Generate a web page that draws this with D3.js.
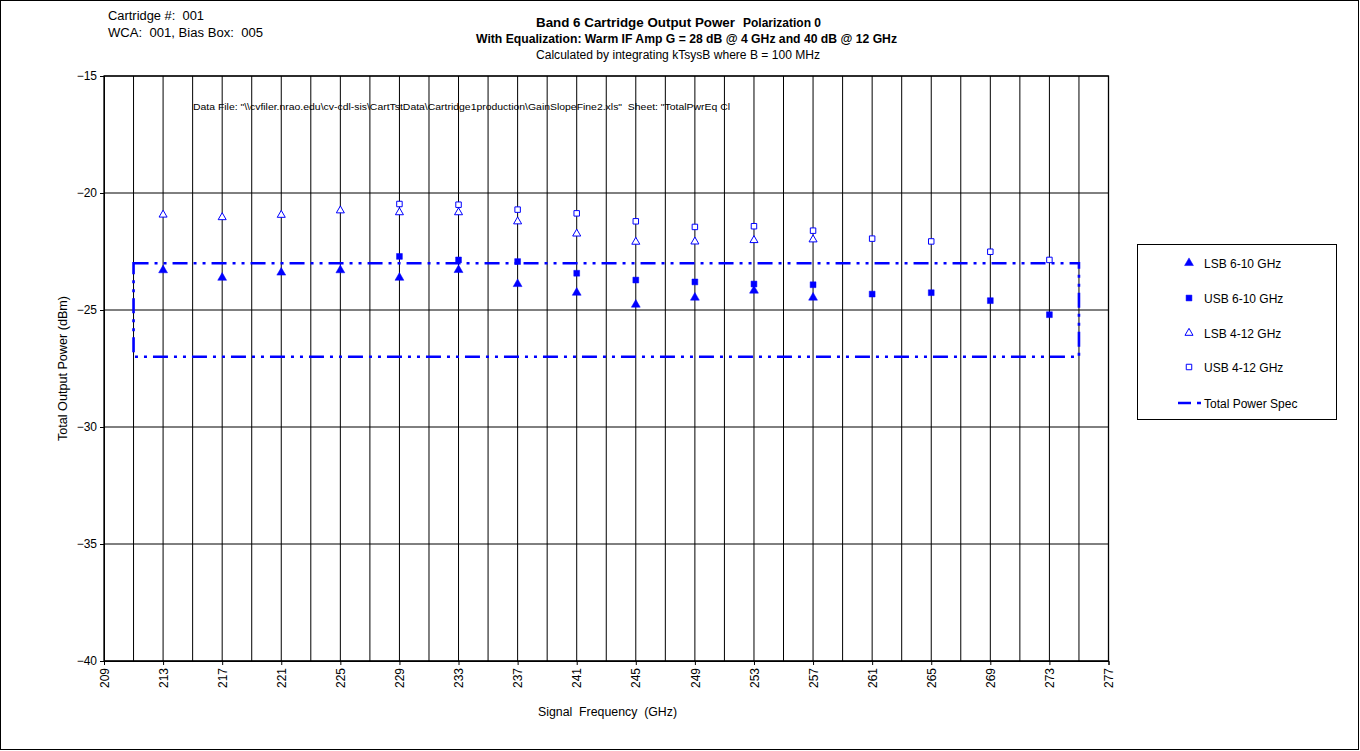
<!DOCTYPE html>
<html>
<head>
<meta charset="utf-8">
<script src="https://cdn.jsdelivr.net/npm/d3@7"></script>
<style>
  html, body { margin: 0; padding: 0; background: #fff; }
  svg { display: block; font-family: "Liberation Sans", Arial, sans-serif; }
  svg text { white-space: pre; }
</style>
</head>
<body>
<svg id="chart" width="1360" height="751"></svg>
<script>
// Signal frequencies (GHz)
const lsbFreqs = [213, 217, 221, 225, 229, 233, 237, 241, 245, 249, 253, 257];
const usbFreqs = [229, 233, 237, 241, 245, 249, 253, 257, 261, 265, 269, 273];

// Total output power (dBm)
const lsb610 = [-23.3, -23.62, -23.4, -23.3, -23.62, -23.29, -23.89, -24.26, -24.77, -24.47, -24.17, -24.47];
const usb610 = [-22.71, -22.86, -22.93, -23.43, -23.72, -23.8, -23.89, -23.92, -24.32, -24.26, -24.6, -25.2];
const lsb412 = [-20.93, -21.04, -20.94, -20.75, -20.83, -20.83, -21.22, -21.74, -22.09, -22.08, -22.02, -21.99];
const usb412 = [-20.47, -20.5, -20.71, -20.87, -21.21, -21.45, -21.42, -21.61, -21.95, -22.07, -22.51, -22.86];

// Total power spec window
const specFreq = [211, 275];
const specPower = [-23, -27];

// Axis ticks
const xTicks = d3.range(209, 278, 4);
const xGrid = d3.range(211, 277, 2);
const yTicks = [-15, -20, -25, -30, -35, -40];

const legendLabels = ["LSB 6-10 GHz", "USB 6-10 GHz", "LSB 4-12 GHz", "USB 4-12 GHz", "Total Power Spec"];

const blue = "#0000ff";
const specDash = "15,6,3,6,3,6";

const svg = d3.select("#chart");

// outer frame
svg.append("rect").attr("x", 0.5).attr("y", 0.5).attr("width", 1358).attr("height", 749)
  .attr("fill", "none").attr("stroke", "#000").attr("stroke-width", 1);

const x = d3.scaleLinear().domain([209, 277]).range([104, 1108.5]);
const y = d3.scaleLinear().domain([-40, -15]).range([661, 76]);

// grid
const grid = svg.append("g");
grid.selectAll("line.v").data(xGrid).join("line")
  .attr("x1", d => x(d)).attr("x2", d => x(d)).attr("y1", y(-15)).attr("y2", y(-40))
  .attr("stroke", "#000").attr("stroke-width", 1);
grid.selectAll("line.h").data(yTicks).join("line")
  .attr("x1", x(209)).attr("x2", x(277)).attr("y1", d => y(d)).attr("y2", d => y(d))
  .attr("stroke", "#000").attr("stroke-width", 1);
// plot frame
svg.append("rect").attr("x", x(209)).attr("y", y(-15))
  .attr("width", x(277) - x(209)).attr("height", y(-40) - y(-15))
  .attr("fill", "none").attr("stroke", "#000").attr("stroke-width", 1.3);

// y axis
const yAxis = d3.axisLeft(y).tickValues(yTicks).tickSize(4).tickPadding(3).tickFormat(d3.format("d"));
const gy = svg.append("g").attr("transform", `translate(${x(209)},0)`).call(yAxis);
gy.select(".domain").attr("stroke", "#000");
gy.selectAll("text").attr("font-size", 12).attr("fill", "#000").attr("font-family", "Liberation Sans, Arial, sans-serif");

// x axis
const xAxis = d3.axisBottom(x).tickValues(xTicks).tickSize(4).tickFormat(d3.format("d"));
const gx = svg.append("g").attr("transform", `translate(0,${y(-40)})`).call(xAxis);
gx.select(".domain").attr("stroke", "#000");
gx.selectAll("text")
  .attr("font-size", 12).attr("fill", "#000").attr("font-family", "Liberation Sans, Arial, sans-serif")
  .attr("transform", "rotate(-90)")
  .attr("text-anchor", "end")
  .attr("x", -7).attr("y", 0).attr("dy", "0.35em");

// axis titles
svg.append("text").attr("x", 538).attr("y", 716)
  .attr("font-size", 12.5).attr("textLength", 139).attr("lengthAdjust", "spacingAndGlyphs")
  .text("Signal  Frequency  (GHz)");
svg.append("text").attr("transform", "translate(67,441) rotate(-90)")
  .attr("font-size", 12.5).attr("textLength", 145).attr("lengthAdjust", "spacingAndGlyphs")
  .text("Total Output Power (dBm)");

// titles
svg.append("text").attr("x", 536).attr("y", 27).attr("font-weight", "bold")
  .attr("font-size", 13.5).attr("textLength", 199).attr("lengthAdjust", "spacingAndGlyphs")
  .text("Band 6 Cartridge Output Power");
svg.append("text").attr("x", 743).attr("y", 27).attr("font-weight", "bold")
  .attr("font-size", 12).attr("textLength", 78).attr("lengthAdjust", "spacingAndGlyphs")
  .text("Polarization 0");
svg.append("text").attr("x", 476).attr("y", 43).attr("font-weight", "bold")
  .attr("font-size", 12).attr("textLength", 421).attr("lengthAdjust", "spacingAndGlyphs")
  .text("With Equalization: Warm IF Amp G = 28 dB @ 4 GHz and 40 dB @ 12 GHz");
svg.append("text").attr("x", 536).attr("y", 59)
  .attr("font-size", 12).attr("textLength", 284).attr("lengthAdjust", "spacingAndGlyphs")
  .text("Calculated by integrating kTsysB where B = 100 MHz");

svg.append("text").attr("x", 108).attr("y", 20).attr("font-size", 12.5)
  .attr("textLength", 96).attr("lengthAdjust", "spacingAndGlyphs").text("Cartridge #:  001");
svg.append("text").attr("x", 108).attr("y", 37).attr("font-size", 12.5)
  .attr("textLength", 155).attr("lengthAdjust", "spacingAndGlyphs").text("WCA:  001, Bias Box:  005");

svg.append("text").attr("x", 193).attr("y", 110).attr("font-size", 9.5)
  .attr("textLength", 537).attr("lengthAdjust", "spacingAndGlyphs")
  .text("Data File: \"\\\\cvfiler.nrao.edu\\cv-cdl-sis\\CartTstData\\Cartridge1production\\GainSlopeFine2.xls\"  Sheet: \"TotalPwrEq Cl");

// spec window
svg.append("rect")
  .attr("x", x(specFreq[0])).attr("y", y(specPower[0]))
  .attr("width", x(specFreq[1]) - x(specFreq[0])).attr("height", y(specPower[1]) - y(specPower[0]))
  .attr("fill", "none").attr("stroke", blue).attr("stroke-width", 2.6).attr("stroke-dasharray", specDash);

// markers
const tri = d3.symbol().type(d3.symbolTriangle).size(34);
const sq = d3.symbol().type(d3.symbolSquare).size(34);
const triOpen = d3.symbol().type(d3.symbolTriangle).size(28);
const sqOpen = d3.symbol().type(d3.symbolSquare).size(30);

function plot(freqs, vals, path, filled) {
  svg.append("g").selectAll("path").data(freqs.map((f, i) => [f, vals[i]])).join("path")
    .attr("transform", d => `translate(${x(d[0])},${y(d[1])})`)
    .attr("d", path)
    .attr("fill", filled ? blue : "#fff")
    .attr("stroke", blue).attr("stroke-width", filled ? 0.5 : 1);
}
plot(lsbFreqs, lsb412, triOpen, false);
plot(usbFreqs, usb412, sqOpen, false);
plot(lsbFreqs, lsb610, tri, true);
plot(usbFreqs, usb610, sq, true);

// legend
const lg = svg.append("g");
lg.append("rect").attr("x", 1137.5).attr("y", 244.5).attr("width", 199).attr("height", 175)
  .attr("fill", "#fff").attr("stroke", "#000").attr("stroke-width", 1);
const legendRows = [263, 298, 333, 367, 403];
const legendSyms = [[tri, true], [sq, true], [triOpen, false], [sqOpen, false]];
legendLabels.forEach((lab, i) => {
  const yy = legendRows[i];
  if (i < 4) {
    lg.append("path").attr("transform", `translate(1189,${yy})`).attr("d", legendSyms[i][0])
      .attr("fill", legendSyms[i][1] ? blue : "#fff").attr("stroke", blue)
      .attr("stroke-width", legendSyms[i][1] ? 0.5 : 1);
  } else {
    lg.append("line").attr("x1", 1178).attr("x2", 1201).attr("y1", yy).attr("y2", yy)
      .attr("stroke", blue).attr("stroke-width", 2.6).attr("stroke-dasharray", "13,6,4,6");
  }
  lg.append("text").attr("x", 1204).attr("y", yy + 4.5).attr("font-size", 12).text(lab);
});
</script>
</body>
</html>
